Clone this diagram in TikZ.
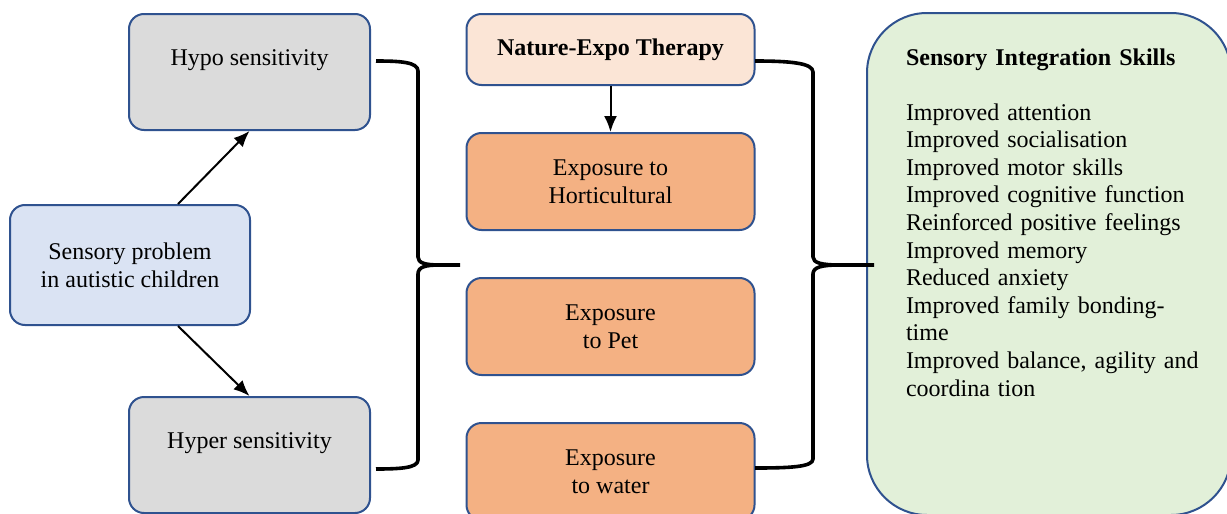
\documentclass[tikz,border=0pt]{standalone}
\usepackage{fontspec}
\setmainfont{Liberation Serif}
\usetikzlibrary{positioning,arrows.meta}

\definecolor{edgeblue}{HTML}{2F528F}
\definecolor{greyfill}{HTML}{DBDBDB}
\definecolor{bluefill}{HTML}{DAE3F3}
\definecolor{palefill}{HTML}{FBE5D6}
\definecolor{orangefill}{HTML}{F4B183}
\definecolor{greenfill}{HTML}{E2F0D9}

\begin{document}
\begin{tikzpicture}[x=0.5pt,y=-0.5pt,node distance=23pt,
  font=\fontsize{12}{13.8}\selectfont,
  box/.style={draw=edgeblue,line width=1pt,rounded corners=7.5pt,align=center},
  sensebox/.style={box,fill=greyfill,minimum width=120.5pt,inner ysep=0pt,
    text height=25.5pt,text depth=32.5pt},
  problembox/.style={box,fill=bluefill,minimum width=120pt,minimum height=60pt},
  therapybox/.style={box,fill=palefill,minimum width=144pt,minimum height=35.5pt,
    font=\fontsize{12}{13.8}\selectfont\bfseries},
  exposurebox/.style={box,fill=orangefill,minimum width=144pt,minimum height=48.5pt},
  skillbox/.style={draw=edgeblue,line width=1pt,fill=greenfill,rounded corners=30pt,
    align=left,text width=143pt,inner xsep=19.5pt,inner ysep=0pt,
    text height=26pt,text depth=225pt},
  arrow/.style={-{Latex[length=8pt,width=6.5pt]},line width=1pt},
  brace/.style={line width=1.8pt,line join=round}]

  \useasboundingbox (0,0) rectangle (1227,514);

  % left column
  \node[problembox] (problem) at (130,265) {Sensory problem\\in autistic children};
  \node[sensebox] (hypo) at (249.5,72) {Hypo sensitivity};
  \node[sensebox] (hyper) at (249.5,455) {Hyper sensitivity};

  \draw[arrow] ([xshift=24pt]problem.north) -- (hypo.south);
  \draw[arrow] ([xshift=24pt]problem.south) -- (hyper.north);

  % middle column
  \node[therapybox] (therapy) at (610.5,49.5) {Nature-Expo Therapy};
  \node[exposurebox] (horti) [below=of therapy] {Exposure to\\Horticultural};
  \node[exposurebox] (pet) [below=of horti] {Exposure\\to Pet};
  \node[exposurebox] (water) [below=of pet] {Exposure\\to water};

  \draw[arrow] (therapy) -- (horti);

  % right column
  \node[skillbox,anchor=north west] (skills) at (866,12)
    {\textbf{Sensory Integration Skills}\\[13.8pt]
     Improved attention\\
     Improved socialisation\\
     Improved motor skills\\
     Improved cognitive function\\
     Reinforced positive feelings\\
     Improved memory\\
     Reduced anxiety\\
     Improved family bonding-\\
     time\\
     \mbox{Improved balance, agility and}\\
     coordina tion};

  % braces
  \coordinate (ltop) at (376,61);
  \coordinate (lbot) at (376,469);
  \coordinate (ltip) at (460,265);
  \coordinate (rtop) at (755,61);
  \coordinate (rbot) at (755,468);
  \coordinate (rtip) at (skills.west |- ltip);

  \draw[brace] (ltop) .. controls (400,61) and (418,62) .. (418,71) -- (418,257)
    .. controls (418,263) and (425,265) .. (440,265) -- (ltip);
  \draw[brace] (440,265) .. controls (425,265) and (418,267) .. (418,274) -- (418,460)
    .. controls (418,468) and (400,469) .. (lbot);
  \draw[brace] (rtop) .. controls (790,61) and (813,63) .. (813,72) -- (813,257)
    .. controls (813,263) and (822,265) .. (840,265) -- ([xshift=4pt]rtip);
  \draw[brace] (840,265) .. controls (822,265) and (813,267) .. (813,274) -- (813,459)
    .. controls (813,467) and (790,468) .. (rbot);
\end{tikzpicture}
\end{document}
